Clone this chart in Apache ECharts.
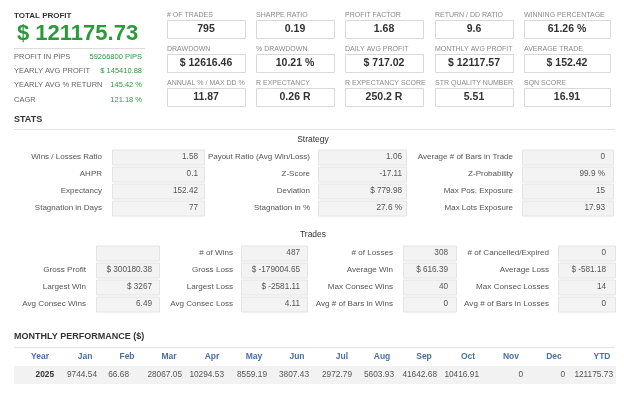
<!DOCTYPE html>
<html><head><meta charset="utf-8">
<script src="https://cdn.jsdelivr.net/npm/echarts@6/dist/echarts.min.js"></script>
<style>html,body{margin:0;padding:0;background:#fff}#c{width:624px;height:400px}</style>
</head><body><div id="c"></div>
<script>
// ---- data ----
var totalProfitLabel = 'TOTAL PROFIT';
var totalProfitValue = '$ 121175.73';
var summaryLabels = ['PROFIT IN PIPS', 'YEARLY AVG PROFIT', 'YEARLY AVG % RETURN', 'CAGR'];
var summaryValues = ['59266800 PIPS', '$ 145410.88', '145.42 %', '121.18 %'];

var metricLabels = [
  ['# OF TRADES', 'SHARPE RATIO', 'PROFIT FACTOR', 'RETURN / DD RATIO', 'WINNING PERCENTAGE'],
  ['DRAWDOWN', '% DRAWDOWN', 'DAILY AVG PROFIT', 'MONTHLY AVG PROFIT', 'AVERAGE TRADE'],
  ['ANNUAL % / MAX DD %', 'R EXPECTANCY', 'R EXPECTANCY SCORE', 'STR QUALITY NUMBER', 'SQN SCORE']
];
var metricValues = [
  ['795', '0.19', '1.68', '9.6', '61.26 %'],
  ['$ 12616.46', '10.21 %', '$ 717.02', '$ 12117.57', '$ 152.42'],
  ['11.87', '0.26 R', '250.2 R', '5.51', '16.91']
];

var strategyLabels = [
  ['Wins / Losses Ratio', 'AHPR', 'Expectancy', 'Stagnation in Days'],
  ['Payout Ratio (Avg Win/Loss)', 'Z-Score', 'Deviation', 'Stagnation in %'],
  ['Average # of Bars in Trade', 'Z-Probability', 'Max Pos. Exposure', 'Max Lots Exposure']
];
var strategyValues = [
  ['1.58', '0.1', '152.42', '77'],
  ['1.06', '-17.11', '$ 779.98', '27.6 %'],
  ['0', '99.9 %', '15', '17.93']
];

var tradesLabels = [
  ['', 'Gross Profit', 'Largest Win', 'Avg Consec Wins'],
  ['# of Wins', 'Gross Loss', 'Largest Loss', 'Avg Consec Loss'],
  ['# of Losses', 'Average Win', 'Max Consec Wins', 'Avg # of Bars in Wins'],
  ['# of Cancelled/Expired', 'Average Loss', 'Max Consec Losses', 'Avg # of Bars in Losses']
];
var tradesValues = [
  ['', '$ 300180.38', '$ 3267', '6.49'],
  ['487', '$ -179004.65', '$ -2581.11', '4.11'],
  ['308', '$ 616.39', '40', '0'],
  ['0', '$ -581.18', '14', '0']
];

var monthHeaders = ['Year', 'Jan', 'Feb', 'Mar', 'Apr', 'May', 'Jun', 'Jul', 'Aug', 'Sep', 'Oct', 'Nov', 'Dec', 'YTD'];
var monthValues = ['2025', '9744.54', '66.68', '28067.05', '10294.53', '8559.19', '3807.43', '2972.79', '5603.93', '41642.68', '10416.91', '0', '0', '121175.73'];

// ---- layout ----
var FF = '"Liberation Sans", Arial, sans-serif';
var els = [];
function txt(x, y, s, font, fill, align) {
  els.push({type: 'text', x: x, y: y, silent: true,
    style: {text: s, font: font, fill: fill, align: align || 'left', verticalAlign: 'middle'}});
}
function rect(x, y, w, h, fill, stroke) {
  els.push({type: 'rect', silent: true, shape: {x: x, y: y, width: w, height: h},
    style: {fill: fill, stroke: stroke, lineWidth: 1}});
}
function hline(x1, x2, y, color) {
  els.push({type: 'line', silent: true, shape: {x1: x1, y1: y, x2: x2, y2: y},
    style: {stroke: color, lineWidth: 1}});
}

// Total profit block
txt(14, 16, totalProfitLabel, 'bold 8px ' + FF, '#333');
txt(17, 34, totalProfitValue, 'bold 22px ' + FF, '#2a9a3a');
hline(14, 145, 48.5, '#dddddd');
var sumY = [57, 71, 85, 100];
summaryLabels.forEach(function (l, i) {
  txt(14, sumY[i], l, '7.5px ' + FF, '#666');
  txt(142, sumY[i], summaryValues[i], '7.5px ' + FF, '#2f9a3f', 'right');
});

// metric grid
var mColX = [167, 256, 345, 435, 524];
var mColW = [78, 78, 78, 78, 86];
var mLabelY = [15, 49, 83];
var mBoxY = [20, 54, 88];
metricLabels.forEach(function (row, r) {
  row.forEach(function (l, c) {
    txt(mColX[c], mLabelY[r], l, '7px ' + FF, '#8a8a8a');
    rect(mColX[c] + 0.5, mBoxY[r] + 0.5, mColW[c], 18, '#ffffff', '#d9d9d9');
    txt(mColX[c] + mColW[c] / 2, mBoxY[r] + 9.5, metricValues[r][c], 'bold 10.5px ' + FF, '#333', 'center');
  });
});

// STATS
txt(14, 120, 'STATS', 'bold 9px ' + FF, '#333');
hline(14, 615, 129.5, '#e3e3e3');
txt(313, 140, 'Strategy', '8.5px ' + FF, '#333', 'center');
var sRowY = [157, 174, 191, 208];
var sLabelR = [102, 310, 513];
var sBoxX = [112, 318, 522];
var sBoxW = [92, 88, 91];
var sValR = [198, 402, 605];
strategyLabels.forEach(function (col, c) {
  col.forEach(function (l, r) {
    txt(sLabelR[c], sRowY[r], l, '8px ' + FF, '#555', 'right');
    rect(sBoxX[c] + 0.5, sRowY[r] - 7.5 + 0.5, sBoxW[c], 15, '#f3f3f3', '#e4e4e4');
    txt(sValR[c], sRowY[r], strategyValues[c][r], '8.2px ' + FF, '#555', 'right');
  });
});

txt(313, 235, 'Trades', '8.5px ' + FF, '#333', 'center');
var tRowY = [253, 270, 287, 304];
var tLabelR = [86, 233, 393, 549];
var tBoxX = [96, 241, 403, 558];
var tBoxW = [63, 66, 53, 57];
var tValR = [152, 300, 448, 606];
tradesLabels.forEach(function (col, c) {
  col.forEach(function (l, r) {
    if (l) txt(tLabelR[c], tRowY[r], l, '8.1px ' + FF, '#555', 'right');
    rect(tBoxX[c] + 0.5, tRowY[r] - 7.5 + 0.5, tBoxW[c], 15, '#f3f3f3', '#e4e4e4');
    if (tradesValues[c][r]) txt(tValR[c], tRowY[r], tradesValues[c][r], '8.2px ' + FF, '#555', 'right');
  });
});

// Monthly performance
txt(14, 337, 'MONTHLY PERFORMANCE ($)', 'bold 9px ' + FF, '#333');
hline(14, 615, 347.5, '#e3e3e3');
var mhX = [40, 85, 127, 169, 212, 254, 297, 342, 382, 424, 468, 511, 554, 602];
var mvR = [54, 97, 129, 182, 224, 267, 309, 352, 394, 437, 479, 523, 565, 613];
rect(14, 366, 602, 18, '#f2f2f2', null);
monthHeaders.forEach(function (h, i) {
  txt(mhX[i], 357, h, 'bold 8.5px ' + FF, '#4a6fa5', 'center');
  txt(mvR[i], 375, monthValues[i], (i === 0 ? 'bold ' : '') + '8.3px ' + FF, i === 0 ? '#333' : '#555', 'right');
});

var chart = echarts.init(document.getElementById('c'), null, {renderer: 'canvas'});
chart.setOption({backgroundColor: '#ffffff', animation: false, graphic: {elements: els}});
</script></body></html>
